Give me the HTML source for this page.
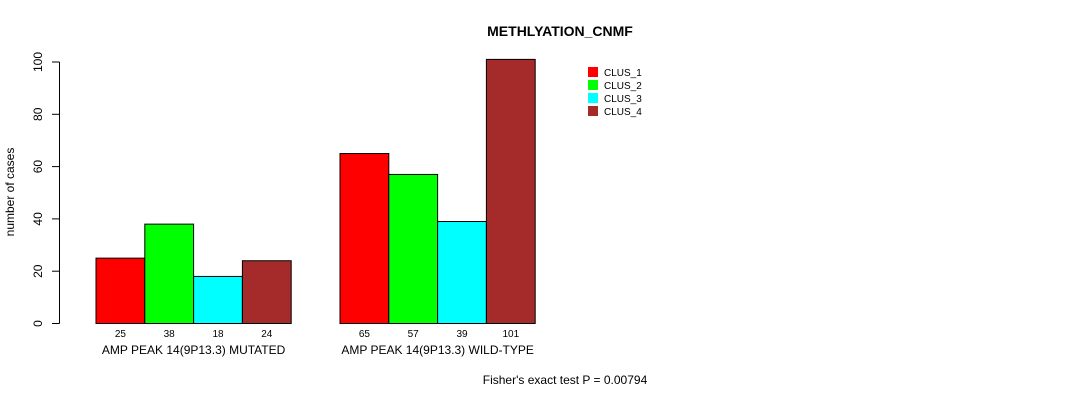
<!DOCTYPE html>
<html><head><meta charset="utf-8"><style>
body{margin:0;background:#fff}
svg text{font-family:"Liberation Sans",Arial,sans-serif;fill:#000}
</style></head><body>
<svg id="chart" width="1090" height="400">
<text x="560" y="36" font-size="14" font-weight="bold" text-anchor="middle">METHLYATION_CNMF</text>
<text transform="translate(14,192) rotate(-90)" font-size="12" text-anchor="middle">number of cases</text>
<text x="565" y="384" font-size="12" text-anchor="middle">Fisher's exact test P = 0.00794</text>
<g id="axis"></g><g id="bars"></g><g id="legend"></g>
</svg>
<script>
const groups=["AMP PEAK 14(9P13.3) MUTATED","AMP PEAK 14(9P13.3) WILD-TYPE"];
const clusters=["CLUS_1","CLUS_2","CLUS_3","CLUS_4"];
const colors=["#ff0000","#00ff00","#00ffff","#a52a2a"];
const mutated=[25,38,18,24];
const wildtype=[65,57,39,101];
const yTicks=[0,20,40,60,80,100];
const series=[mutated,wildtype];
const NS="http://www.w3.org/2000/svg";
const y0=323.5,ppu=2.615,barW=48.8,x0=96,groupGap=48.8;
function y(v){return y0-v*ppu;}
function mk(t,a,p){const e=document.createElementNS(NS,t);for(const k in a)e.setAttribute(k,a[k]);p.appendChild(e);return e;}
const ax=document.getElementById('axis');
const al=mk('line',{x1:59.5,x2:59.5,y1:y(0),y2:y(100),stroke:'#000'},ax);


yTicks.forEach(t=>{
 const l=mk('line',{x1:52,x2:59.5,y1:y(t),y2:y(t),stroke:'#000'},ax);
 
 
 const tx=mk('text',{transform:`translate(42,${y(t)}) rotate(-90)`,'font-size':12,'text-anchor':'middle'},ax);
 tx.textContent=t;
 
 
});
const bg=document.getElementById('bars');
series.forEach((s,g)=>{
 const gx=x0+g*(4*barW+groupGap);
 s.forEach((v,i)=>{
  const bx=gx+i*barW;
  const r=mk('rect',{x:bx,y:y(v),width:barW,height:y(0)-y(v),fill:colors[i],stroke:'#000','stroke-width':1},bg);
  
  
  const c=mk('text',{x:bx+barW/2,y:337,'font-size':10,'text-anchor':'middle'},bg);
  c.textContent=v;
  
  
 });
 const gl=mk('text',{x:gx+2*barW,y:354,'font-size':12,'text-anchor':'middle'},bg);
 gl.textContent=groups[g];
 
 
});
const lg=document.getElementById('legend');
clusters.forEach((c,i)=>{
 const ly=67+i*13;
 const r=mk('rect',{x:588,y:ly,width:10,height:10,fill:colors[i]},lg);
 
 
 const t=mk('text',{x:604,y:ly+9,'font-size':10},lg);
 t.textContent=c;
 
 
});
</script>
</body></html>
